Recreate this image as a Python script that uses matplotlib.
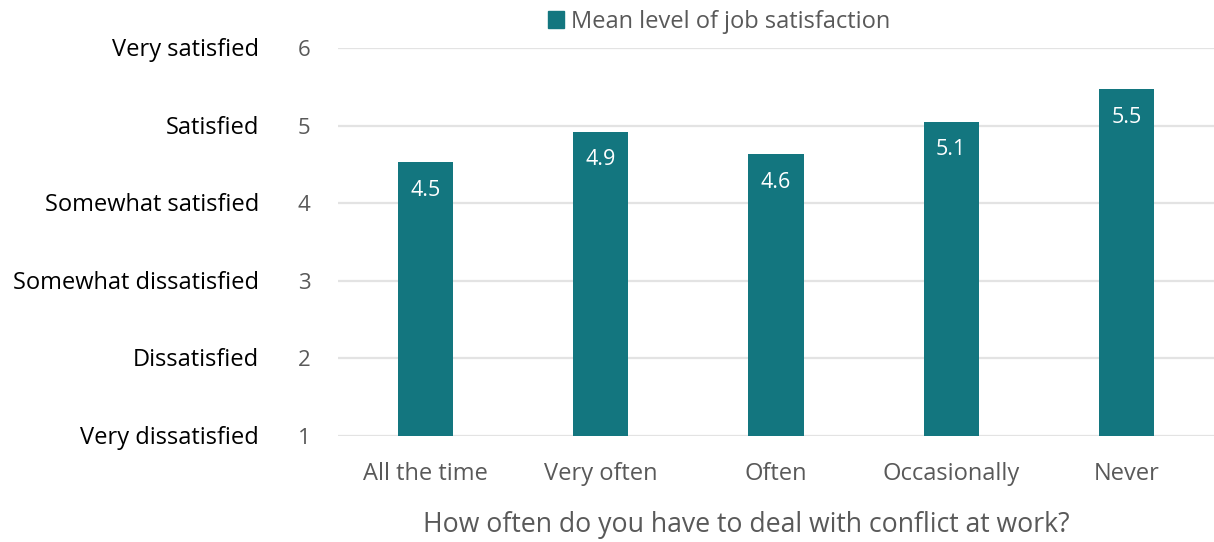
import matplotlib.pyplot as plt
from matplotlib.patches import Patch

plt.rcParams['font.family'] = ['Open Sans', 'DejaVu Sans']

categories = ['All the time', 'Very often', 'Often', 'Occasionally', 'Never']
values = [4.53, 4.92, 4.63, 5.05, 5.47]
value_labels = ['4.5', '4.9', '4.6', '5.1', '5.5']
ticks = [1, 2, 3, 4, 5, 6]
tick_names = ['Very dissatisfied', 'Dissatisfied', 'Somewhat dissatisfied',
              'Somewhat satisfied', 'Satisfied', 'Very satisfied']

teal = '#13767f'
grey = '#595959'

fig = plt.figure(figsize=(12.14, 5.42), dpi=100)
ax = fig.add_axes([338 / 1214, 1 - 436 / 542, 876 / 1214, (436 - 48) / 542])

x = range(len(categories))
bars = ax.bar(x, [v - 1 for v in values], bottom=1, width=0.314, color=teal, zorder=3)

for b, lab in zip(bars, value_labels):
    ax.text(b.get_x() + b.get_width() / 2, b.get_y() + b.get_height() - 0.36, lab,
            ha='center', va='center', color='white', fontsize=15.5, zorder=4)

ax.set_xlim(-0.5, len(categories) - 0.5)
ax.set_ylim(1, 6)
ax.set_yticks(ticks)
ax.set_yticklabels([str(t) for t in ticks])
ax.tick_params(axis='y', length=0, pad=20, labelsize=16, labelcolor=grey)
ax.set_xticks(list(x))
ax.set_xticklabels(categories)
ax.tick_params(axis='x', length=0, pad=19, labelsize=17, labelcolor=grey)
ax.grid(axis='y', color='#e3e3e3', linewidth=1.6, zorder=0)
ax.set_axisbelow(True)
for s in ax.spines.values():
    s.set_visible(False)

# satisfaction scale names to the left of the numbers
for t, name in zip(ticks, tick_names):
    ax.annotate(name, xy=(0, t), xycoords=('axes fraction', 'data'),
                xytext=(-79, -2), textcoords='offset pixels',
                ha='right', va='center', fontsize=17, color='black')

ax.set_xlabel('How often do you have to deal with conflict at work?',
              fontsize=19.2, color=grey)
ax.xaxis.set_label_coords(0.466, -(525 - 436) / 388)
ax.xaxis.label.set_va('center')

fig.legend(handles=[Patch(color=teal)], labels=['Mean level of job satisfaction'],
           loc='center', bbox_to_anchor=(719 / 1214, 1 - 22 / 542), frameon=False,
           fontsize=17, handlelength=0.7, handleheight=0.7, handletextpad=0.3,
           labelcolor=grey)

fig.savefig('out.png', dpi=100)
